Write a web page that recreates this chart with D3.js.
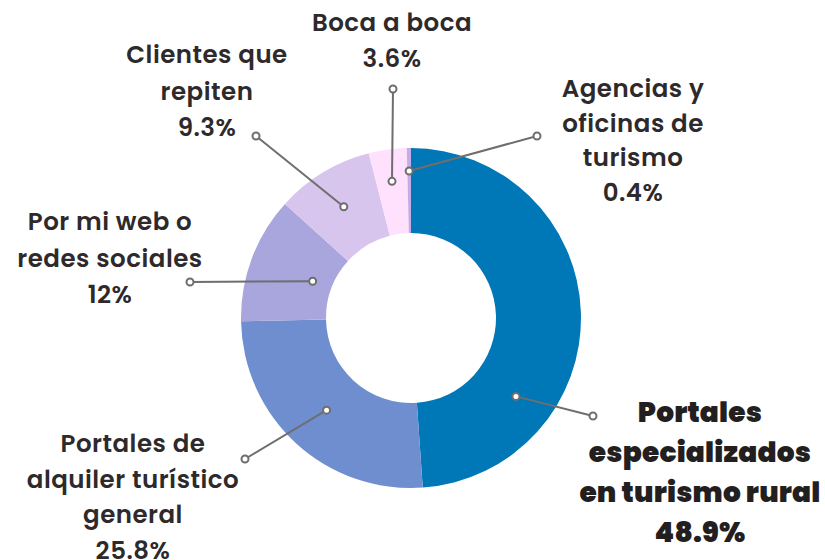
<!DOCTYPE html>
<html>
<head>
<meta charset="utf-8">
<script src="https://cdn.jsdelivr.net/npm/d3@7"></script>
<style>
  body { margin: 0; background: #fff; }
  svg { display: block; }
</style>
</head>
<body>
<div id="chart"></div>
<script>
// Chart values
const categories = [
  "Portales especializados en turismo rural",
  "Portales de alquiler turístico general",
  "Por mi web o redes sociales",
  "Clientes que repiten",
  "Boca a boca",
  "Agencias y oficinas de turismo"
];
const shares = [48.9, 25.8, 12, 9.3, 3.6, 0.4];
const labelLines = [
  ["Portales", "especializados", "en turismo rural"],
  ["Portales de", "alquiler turístico", "general"],
  ["Por mi web o", "redes sociales"],
  ["Clientes que", "repiten"],
  ["Boca a boca"],
  ["Agencias y", "oficinas de", "turismo"]
];
const colors = ["#0077b6", "#6f8ecf", "#a9a6de", "#d8c5ee", "#ffe0fd", "#c2aee6"];

// Label layout (centre x, first baseline, line height) and leader line ends
const labelLayout = [
  { x: 700, y: 422, lh: 40, big: true },
  { x: 133, y: 452, lh: 35.5 },
  { x: 110, y: 230, lh: 36.5 },
  { x: 207, y: 63, lh: 36.5 },
  { x: 392, y: 31, lh: 36 },
  { x: 633, y: 97, lh: 34.5 }
];
const leaders = [
  { t: 0.72, r: 131, end: [593, 416] },
  { t: 0.5, r: 125, end: [245, 459] },
  { t: 0.5, r: 105, end: [190, 282] },
  { t: 0.5, r: 130, end: [256, 136] },
  { t: 0.5, r: 138, end: [393, 89] },
  { t: 0.5, r: 147, end: [537, 136] }
];

const width = 825, height = 560;
const cx = 411, cy = 318;
const outerR = 170, innerR = 85;

const svg = d3.select("#chart")
  .append("svg")
  .attr("width", width)
  .attr("height", height)
  .style("font-family", "Poppins, Inter, sans-serif");

const data = categories.map((c, i) => ({ name: c, value: shares[i], i }));

const pie = d3.pie()
  .value(d => d.value)
  .sort(null);

const arc = d3.arc()
  .innerRadius(innerR)
  .outerRadius(outerR);

const arcs = pie(data);

const g = svg.append("g")
  .attr("transform", `translate(${cx},${cy})`);

g.selectAll("path")
  .data(arcs)
  .join("path")
  .attr("d", arc)
  .attr("fill", d => colors[d.data.i]);

// leader lines
const lineColor = "#6e6e6e";
arcs.forEach(d => {
  const L = leaders[d.data.i];
  const a = d.startAngle + (d.endAngle - d.startAngle) * L.t;
  const x0 = cx + L.r * Math.sin(a);
  const y0 = cy - L.r * Math.cos(a);
  const [x1, y1] = L.end;
  svg.append("line")
    .attr("x1", x0).attr("y1", y0)
    .attr("x2", x1).attr("y2", y1)
    .attr("stroke", lineColor)
    .attr("stroke-width", 2);
  [[x0, y0], [x1, y1]].forEach(p => {
    svg.append("circle")
      .attr("cx", p[0]).attr("cy", p[1])
      .attr("r", 3.5)
      .attr("fill", "#fff")
      .attr("stroke", lineColor)
      .attr("stroke-width", 2);
  });
});

// labels
const fmt = v => String(v) + "%";
data.forEach(d => {
  const L = labelLayout[d.i];
  const lines = labelLines[d.i].concat([fmt(d.value)]);
  const t = svg.append("text")
    .attr("text-anchor", "middle")
    .attr("fill", L.big ? "#231f20" : "#2e292b")
    .style("font-size", L.big ? "28px" : "24.5px")
    .style("letter-spacing", L.big ? "0.2px" : "0.5px")
    .style("font-weight", L.big ? 900 : 600);
  lines.forEach((s, k) => {
    t.append("tspan")
      .attr("x", L.x)
      .attr("y", L.y + k * L.lh)
      .text(s);
  });
});
</script>
</body>
</html>
